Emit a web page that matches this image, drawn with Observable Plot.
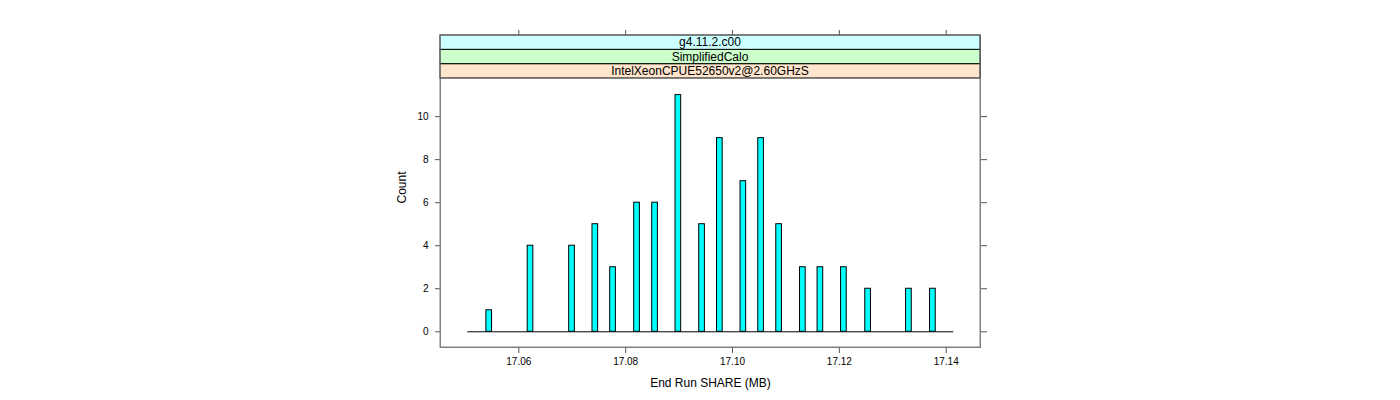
<!DOCTYPE html>
<html>
<head>
<meta charset="utf-8">
<script src="https://cdn.jsdelivr.net/npm/d3@7"></script>
<script src="https://cdn.jsdelivr.net/npm/@observablehq/plot@0.6"></script>
<style>
  html, body { margin: 0; padding: 0; background: white; }
  #chart svg { display: block; }
</style>
</head>
<body>
<div id="chart"></div>
<script>
// Bar centres (End Run SHARE, MB) and counts
const shareValues = [17.05446, 17.06219, 17.06996, 17.07432, 17.07764, 17.08213, 17.08550, 17.08986, 17.09430, 17.09763,
                     17.10203, 17.10535, 17.10872, 17.11317, 17.11645, 17.12085, 17.12538, 17.13302, 17.13751];
const counts = [1, 4, 4, 5, 3, 6, 6, 11, 5, 9, 7, 9, 5, 3, 3, 3, 2, 2, 2];
const binWidth = 0.00106;
const binRange = [17.05045, 17.14142];        // first and last histogram break
const xTicks = [17.06, 17.08, 17.10, 17.12, 17.14];
const yTicks = [0, 2, 4, 6, 8, 10];
const stripLabels = ["IntelXeonCPUE52650v2@2.60GHzS", "SimplifiedCalo", "g4.11.2.c00"]; // bottom to top
const stripColors = ["#ffe5cc", "#ccffcc", "#ccffff"];
const xTitle = "End Run SHARE (MB)";
const yTitle = "Count";

const bars = shareValues.map((v, i) => ({x1: v - binWidth / 2, x2: v + binWidth / 2, count: counts[i]}));
const baseline = [{x1: binRange[0], x2: binRange[1], y: 0}];

const stripH = 14.33;
const font = "'Liberation Sans', Arial, Helvetica, sans-serif";

const plot = Plot.plot({
  width: 1400,
  height: 400,
  marginLeft: 440,
  marginRight: 420,
  marginTop: 35,
  marginBottom: 53,
  style: {fontFamily: font, fontSize: "10px", color: "black", background: "white", overflow: "visible"},
  x: {domain: [17.04534, 17.14642]},
  y: {domain: [-0.73, 13.77]},
  marks: [
    Plot.ruleY(baseline, {x1: "x1", x2: "x2", y: "y", stroke: "black", strokeWidth: 1}),
    Plot.rectY(bars, {x1: "x1", x2: "x2", y1: 0, y2: "count", fill: "#00ffff", stroke: "black", strokeWidth: 1}),
    Plot.frame({stroke: "#808080", strokeWidth: 1}),
    Plot.axisX({anchor: "bottom", ticks: xTicks, tickFormat: d3.format(".2f"), tickSize: 6, tickPadding: 4, label: null, stroke: "#555"}),
    Plot.axisX({anchor: "top", ticks: xTicks, tickFormat: () => "", tickSize: 6, label: null, stroke: "#555"}),
    Plot.axisY({anchor: "left", ticks: yTicks, tickSize: 5, tickPadding: 7, label: null, stroke: "#555"}),
    Plot.axisY({anchor: "right", ticks: yTicks, tickFormat: () => "", tickSize: 6, label: null, stroke: "#555"}),
    Plot.text([xTitle], {text: d => d, frameAnchor: "bottom", dy: 36, fontSize: 12, lineAnchor: "middle"}),
    Plot.text([yTitle], {text: d => d, frameAnchor: "left", dx: -38, dy: 12, rotate: -90, fontSize: 12, lineAnchor: "middle"})
  ]
});

// Strips (panel header labels) drawn in the top part of the panel box
const svgSel = d3.select(plot);
const xs = plot.scale("x").range;
const stripTop = 35;
const g = svgSel.append("g");
stripLabels.forEach((lab, i) => {
  const k = stripLabels.length - 1 - i; // index from the top
  const y0 = stripTop + k * stripH;
  g.append("rect").attr("x", xs[0]).attr("y", y0).attr("width", xs[1] - xs[0]).attr("height", stripH)
    .attr("fill", stripColors[i]).attr("stroke", "black").attr("stroke-width", 1);
  g.append("text").attr("x", (xs[0] + xs[1]) / 2).attr("y", y0 + stripH / 2).attr("dy", "0.35em")
    .attr("text-anchor", "middle").attr("font-size", 12).attr("font-family", font).attr("fill", "black").text(lab);
});
// redraw grey outer frame on top of strips
g.append("rect").attr("x", xs[0]).attr("y", stripTop).attr("width", xs[1] - xs[0]).attr("height", 347 - stripTop)
  .attr("fill", "none").attr("stroke", "#808080").attr("stroke-width", 1);

document.getElementById("chart").append(plot);
</script>
</body>
</html>
